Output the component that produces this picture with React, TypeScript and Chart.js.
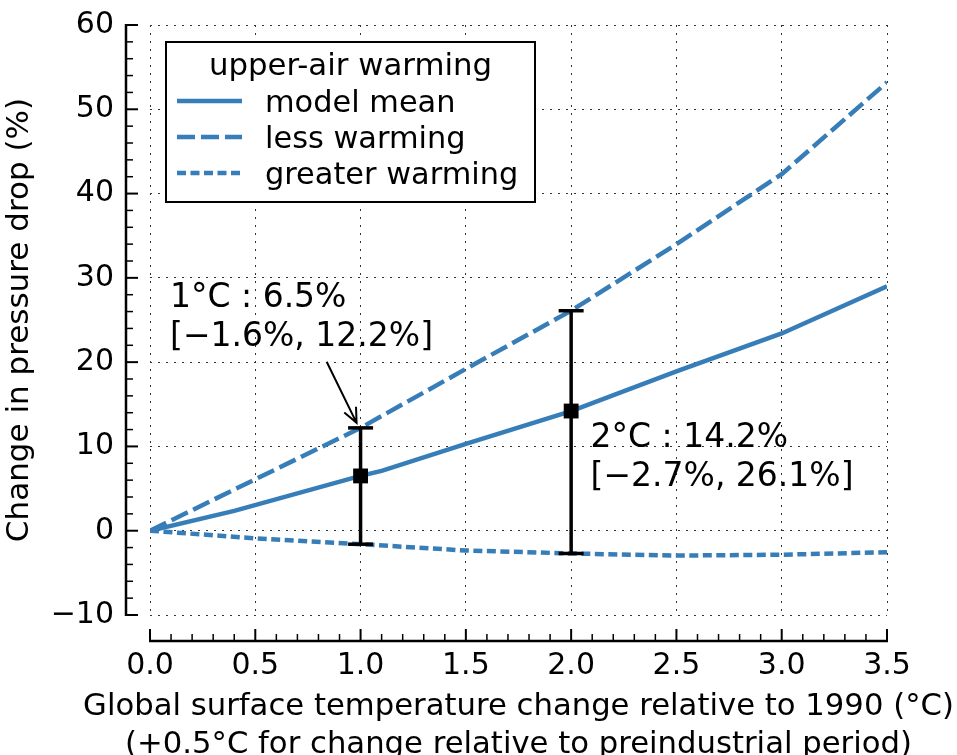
import React, { useEffect, useRef } from 'react';
import Chart from 'chart.js/auto';

// ---------- data ----------
const meanTemps = [0, 0.4, 1.0, 1.1, 1.5, 2.0, 2.5, 3.0, 3.5];
const meanValues = [0, 2.35, 6.5, 7.1, 10.3, 14.2, 18.9, 23.4, 29.0];
const boundTemps = [0, 0.5, 1.0, 1.5, 2.0, 2.5, 3.0, 3.5];
const lessWarmingValues = [0, 6.1, 12.2, 19.2, 26.1, 34.0, 42.3, 53.2];
const greaterWarmingValues = [0, -0.9, -1.6, -2.35, -2.7, -2.95, -2.85, -2.55];
const markerTemps = [1.0, 2.0];
const markerMeans = [6.5, 14.2];
const markerLows = [-1.6, -2.7];
const markerHighs = [12.2, 26.1];
const seriesLabels = ['model mean', 'less warming', 'greater warming'];
const legendTitle = 'upper-air warming';
const xTickStep = 0.5;
const yTickStep = 10;
const xTitleLines = [
  'Global surface temperature change relative to 1990 (°C)',
  '(+0.5°C for change relative to preindustrial period)',
];
const yTitle = 'Change in pressure drop (%)';

// annotation anchors in data coordinates
const annotationAnchors = [
  { x: 0.095, y: 26.6 },
  { x: 2.092, y: 9.96 },
];
const arrowFrom = { x: 0.839, y: 20.05 };
const arrowTo = { x: 0.981, y: 12.8 };

// ---------- styles ----------
const FONT = '"DejaVu Sans", "Liberation Sans", sans-serif';
const BLUE = '#377eb8';
const DASHES = [[], [18, 6], [9, 4.5]];

const fmt = (v: number, digits = 0) =>
  (v < 0 ? '\u2212' : '') + Math.abs(v).toFixed(digits);

const pts = (xs: number[], ys: number[]) => xs.map((x, i) => ({ x, y: ys[i] }));

const decorPlugin = {
  id: 'decor',
  afterDatasetsDraw(chart: any) {
    const { ctx, chartArea: a, scales } = chart;
    const xs = scales.x;
    const ys = scales.y;
    ctx.save();
    ctx.strokeStyle = '#000';
    ctx.fillStyle = '#000';
    ctx.setLineDash([]);

    // offset spines
    const spineX = a.left - 24;
    const spineY = a.bottom + 26;
    ctx.lineWidth = 2.5;
    ctx.beginPath();
    ctx.moveTo(spineX, a.top - 1);
    ctx.lineTo(spineX, a.bottom + 1);
    ctx.moveTo(a.left - 1, spineY);
    ctx.lineTo(a.right + 1, spineY);
    ctx.stroke();

    // y ticks (major 10, minor 2)
    const yMin = Math.round(ys.min), yMax = Math.round(ys.max);
    for (let v = yMin; v <= yMax; v += 2) {
      const py = ys.getPixelForValue(v);
      const major = v % yTickStep === 0;
      ctx.lineWidth = major ? 2 : 1.5;
      ctx.beginPath();
      ctx.moveTo(spineX, py);
      ctx.lineTo(spineX + (major ? 12 : 7), py);
      ctx.stroke();
    }
    // x ticks (major 0.5, minor 0.1)
    const nx = Math.round(xs.max * 10);
    for (let i = 0; i <= nx; i++) {
      const px = xs.getPixelForValue(i / 10);
      const major = i % Math.round(xTickStep * 10) === 0;
      ctx.lineWidth = major ? 2 : 1.5;
      ctx.beginPath();
      ctx.moveTo(px, spineY);
      ctx.lineTo(px, spineY - (major ? 12 : 7));
      ctx.stroke();
    }

    // axis titles
    ctx.font = `30.7px ${FONT}`;
    ctx.textAlign = 'center';
    ctx.textBaseline = 'alphabetic';
    const cx = (a.left + a.right) / 2;
    xTitleLines.forEach((t, i) => ctx.fillText(t, cx, a.bottom + 100 + i * 38));
    ctx.save();
    ctx.font = `31px ${FONT}`;
    ctx.translate(20, (a.top + a.bottom) / 2);
    ctx.rotate(-Math.PI / 2);
    ctx.textBaseline = 'middle';
    ctx.fillText(yTitle, 0, 0);
    ctx.restore();

    // legend
    const bx = a.left + 16, by = a.top + 17, bw = 369, bh = 160;
    ctx.fillStyle = '#fff';
    ctx.fillRect(bx, by, bw, bh);
    ctx.lineWidth = 2;
    ctx.strokeStyle = '#000';
    ctx.strokeRect(bx, by, bw, bh);
    ctx.fillStyle = '#000';
    ctx.font = `30.8px ${FONT}`;
    ctx.textAlign = 'center';
    ctx.fillText(legendTitle, bx + bw / 2, by + 33);
    ctx.textAlign = 'left';
    ctx.font = `30.4px ${FONT}`;
    seriesLabels.forEach((lab, i) => {
      const ry = by + 59 + i * 36;
      ctx.save();
      ctx.strokeStyle = BLUE;
      ctx.lineWidth = 4.5;
      ctx.setLineDash(DASHES[i]);
      ctx.beginPath();
      ctx.moveTo(bx + 11, ry);
      ctx.lineTo(bx + 76, ry);
      ctx.stroke();
      ctx.restore();
      ctx.fillText(lab, bx + 99, ry + 10.5);
    });

    // annotations
    ctx.font = `33px ${FONT}`;
    ctx.textAlign = 'left';
    markerTemps.forEach((t, i) => {
      const anc = annotationAnchors[i];
      const px = xs.getPixelForValue(anc.x);
      const py = ys.getPixelForValue(anc.y);
      const l1 = `${t.toFixed(0)}°C : ${markerMeans[i].toFixed(1)}%`;
      const l2 = `[${fmt(markerLows[i], 1)}%, ${fmt(markerHighs[i], 1)}%]`;
      ctx.fillText(l1, px, py);
      ctx.fillText(l2, px, py + 39.5);
    });

    // arrow
    const x0 = xs.getPixelForValue(arrowFrom.x), y0 = ys.getPixelForValue(arrowFrom.y);
    const x1 = xs.getPixelForValue(arrowTo.x), y1 = ys.getPixelForValue(arrowTo.y);
    ctx.strokeStyle = '#000';
    ctx.lineWidth = 2;
    ctx.beginPath();
    ctx.moveTo(x0, y0);
    ctx.lineTo(x1, y1);
    const ang = Math.atan2(y1 - y0, x1 - x0);
    const hl = 16, ha = 0.42;
    ctx.moveTo(x1 - hl * Math.cos(ang - ha), y1 - hl * Math.sin(ang - ha));
    ctx.lineTo(x1, y1);
    ctx.lineTo(x1 - hl * Math.cos(ang + ha), y1 - hl * Math.sin(ang + ha));
    ctx.stroke();

    ctx.restore();
  },
};

export default function App() {
  const ref = useRef<HTMLCanvasElement | null>(null);

  useEffect(() => {
    document.body.style.margin = '0';
    const canvas = ref.current;
    if (!canvas) return;

    const lineSets = [
      pts(meanTemps, meanValues),
      pts(boundTemps, lessWarmingValues),
      pts(boundTemps, greaterWarmingValues),
    ].map((data, i) => ({
      label: seriesLabels[i],
      data,
      borderColor: BLUE,
      borderWidth: 4.5,
      borderDash: DASHES[i],
      borderCapStyle: 'butt',
      pointRadius: 0,
      tension: 0,
      fill: false,
      order: 3,
    }));

    const errSets = markerTemps.map((t, i) => ({
      label: `err${i}`,
      data: [
        { x: t, y: markerLows[i] },
        { x: t, y: markerHighs[i] },
      ],
      borderColor: '#000',
      borderWidth: 3.5,
      pointStyle: 'line',
      pointRadius: 12.5,
      pointBorderWidth: 3.5,
      pointBorderColor: '#000',
      pointBackgroundColor: '#000',
      order: 1,
    }));

    const markerSet = {
      label: 'markers',
      data: pts(markerTemps, markerMeans),
      showLine: false,
      pointStyle: 'rect',
      pointRadius: 10.5,
      pointBorderWidth: 0,
      pointBackgroundColor: '#000',
      borderColor: '#000',
      order: 0,
    };

    const chart = new Chart(canvas, {
      type: 'line',
      data: { datasets: [...lineSets, ...errSets, markerSet] as any },
      options: {
        animation: false,
        responsive: false,
        devicePixelRatio: 1,
        events: [],
        layout: { padding: { top: 25, right: 70, left: 0, bottom: 0 } },
        plugins: { legend: { display: false }, tooltip: { enabled: false } },
        scales: {
          x: {
            type: 'linear',
            min: 0,
            max: 3.5,
            afterFit: (s: any) => {
              s.height = 140;
            },
            ticks: {
              stepSize: xTickStep,
              callback: (v: any) => Number(v).toFixed(1),
              font: { family: FONT, size: 30 },
              color: '#000',
              padding: 0,
              maxRotation: 0,
              autoSkip: false,
            },
            grid: {
              color: '#333',
              lineWidth: 1,
              drawTicks: true,
              tickLength: 33,
              tickColor: 'rgba(0,0,0,0)',
            },
            border: { display: false, dash: [2, 6] },
          },
          y: {
            type: 'linear',
            min: -10,
            max: 60,
            afterFit: (s: any) => {
              s.width = 150;
            },
            ticks: {
              stepSize: yTickStep,
              callback: (v: any) => fmt(Number(v)),
              font: { family: FONT, size: 30 },
              color: '#000',
              padding: 0,
            },
            grid: {
              color: '#333',
              lineWidth: 1,
              drawTicks: true,
              tickLength: 36,
              tickColor: 'rgba(0,0,0,0)',
            },
            border: { display: false, dash: [2, 6] },
          },
        },
      } as any,
      plugins: [decorPlugin],
    });

    return () => chart.destroy();
  }, []);

  return (
    <div style={{ width: 957, height: 755, position: 'relative', background: '#fff' }}>
      <canvas ref={ref} width={957} height={755} style={{ display: 'block' }} />
    </div>
  );
}
